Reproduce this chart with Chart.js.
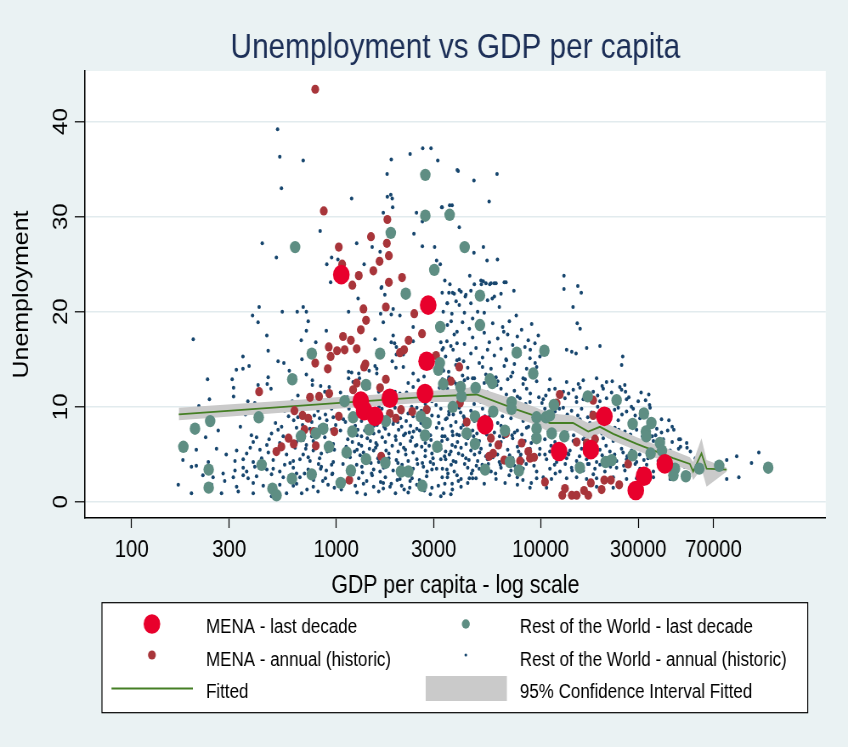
<!DOCTYPE html>
<html>
<head>
<meta charset="utf-8">
<script src="https://cdn.jsdelivr.net/npm/chart.js@4.4.1/dist/chart.umd.min.js"></script>
<style>
html, body { margin: 0; padding: 0; background: #EAF2F3; overflow: hidden; }
/* the original graph is squeezed sideways (oval markers, narrow text) */
#wrap { width: 998px; height: 747px; transform: scaleX(0.8497); transform-origin: 0 0; }
</style>
</head>
<body>
<div id="wrap"><canvas id="chart" width="998" height="747"></canvas></div>
<script>
"use strict";

const xTickValues = [100, 300, 1000, 3000, 10000, 30000, 70000];
const yTickValues = [0, 10, 20, 30, 40];

const seriesLabels = [
	"MENA - last decade",
	"Rest of the World - last decade",
	"MENA - annual (historic)",
	"Rest of the World - annual (historic)",
	"Fitted",
	"95% Confidence Interval Fitted"
];

// [GDP per capita, unemployment %]
const menaDecade = [[1060,23.9],[2820,20.7],[2770,14.8],[2720,11.4],[1830,10.9],[1320,10.6],[1370,9.6],[1550,9.0],
	[5350,8.1],[12300,5.3],[17600,5.5],[20500,9.0],[32000,2.7],[29200,1.2],[40500,4.0]];

const rowDecade = [[2730,34.4],[2730,30.1],[3590,30.2],[630,26.8],[1850,28.3],[3020,24.4],[2190,21.9],[4250,26.8],
	[5050,21.7],[3230,18.4],[760,15.6],[1640,15.6],[3215,14.6],[3160,13.9],[610,12.9],[1400,12.3],[3340,12.4],
	[1100,10.6],[3720,10.0],[2590,9.0],[2770,8.3],[2720,7.0],[1210,8.9],[1750,8.5],[1450,7.6],[1200,7.4],[865,7.7],
	[797,7.2],[673,6.9],[242,8.5],[204,7.7],[418,8.9],[179,5.8],[922,5.8],[1125,5.2],[3120,5.8],[1400,4.5],[1740,4.1],
	[432,3.9],[238,3.4],[1180,3.3],[2075,3.2],[2255,3.2],[759,2.9],[608,2.45],[1052,2.0],[238,1.5],[488,1.4],[511,0.7],
	[2637,1.7],[5050,18.6],[7640,15.7],[10430,15.9],[9200,13.5],[4060,12.1],[4100,11.1],[4810,12.0],[5650,12.9],
	[5800,12.5],[4350,7.2],[4775,9.0],[4775,6.1],[5860,9.5],[6690,7.5],[7210,10.5],[7210,9.8],[7080,4.2],[5350,3.4],
	[7830,3.3],[9550,8.9],[9550,7.7],[9550,6.7],[10620,8.9],[11100,9.1],[11610,10.2],[11330,7.2],[13060,6.9],
	[17000,11.1],[23530,10.7],[15560,3.6],[20800,4.2],[22250,4.4],[28180,4.9],[28180,8.2],[32000,9.3],[32700,7.4],
	[32900,6.9],[34500,5.1],[34800,8.3],[38300,6.2],[39200,5.4],[45400,3.5],[44600,2.8],[51300,2.7],[59700,3.5],
	[74700,3.8],[129700,3.6]];

const menaAnnual = [[790,43.4],[870,30.6],[1780,29.7],[1480,27.9],[1770,27.2],[1030,26.8],[1810,25.9],[1630,25.3],
	[1070,25.0],[1520,24.3],[1290,23.8],[2100,23.6],[1810,23.1],[1200,22.8],[1750,20.5],[2410,19.8],[1360,20.3],
	[1400,19.1],[1320,18.1],[2630,17.7],[1080,17.4],[1180,17.0],[2260,17.0],[1100,16.0],[1010,15.9],[1260,16.1],
	[920,16.3],[940,15.3],[2050,15.7],[2150,16.0],[790,14.6],[1390,14.5],[910,14.0],[1370,14.2],[1750,12.9],
	[3080,15.4],[3640,12.7],[420,11.6],[1260,12.5],[1640,12.0],[1210,11.8],[745,11.0],[825,11.1],[925,11.4],
	[2075,9.7],[2770,9.7],[2355,9.5],[625,9.6],[685,9.1],[730,8.8],[1030,9.0],[1830,9.3],[1960,8.8],[700,7.6],
	[775,7.4],[980,7.4],[585,6.7],[620,6.1],[795,5.9],[540,5.8],[510,5.3],[1660,4.8],[1160,2.3],[4000,14.2],
	[4030,10.4],[12400,11.3],[11970,10.4],[18070,10.7],[18070,9.1],[4350,8.4],[5710,6.7],[6210,6.0],[5860,5.1],
	[5600,4.8],[6760,7.2],[6640,4.4],[7930,4.3],[8080,6.2],[8700,5.3],[8870,4.6],[9290,4.7],[10500,2.1],[15000,6.3],
	[16800,6.2],[18450,6.6],[13150,1.4],[12760,0.7],[14200,0.7],[15000,0.7],[16300,1.2],[17100,0.7],[17600,2.0],
	[19870,1.3],[20470,2.3],[22070,2.3],[24230,1.8],[26800,4.0]];

// rest of the world, annual: split by income band
const rowAnnualLow = [[517,39.2],[530,36.3],[690,35.9],[540,33.0],[835,28.5],[435,27.2],[510,25.7],[900,25.0],
	[950,25.7],[940,23.1],[200,17.1],[420,20.5],[390,19.6],[415,18.9],[545,20.0],[645,20.0],[715,20.0],[690,20.5],
	[730,19.0],[458,17.5],[715,18.0],[675,17.0],[795,16.8],[895,18.0],[350,15.3],[375,14.3],[350,14.0],[325,13.9],
	[465,15.9],[465,13.1],[520,14.8],[555,14.6],[680,15.0],[590,13.8],[630,13.2],[625,12.8],[715,13.4],[765,12.8],
	[765,12.3],[840,12.2],[925,12.1],[460,12.4],[480,11.9],[415,12.3],[310,12.9],[315,12.0],[315,11.1],[235,12.9],
	[240,10.8],[213,10.1],[400,10.4],[445,9.9],[370,10.6],[700,10.5],[780,10.2],[860,10.0],[950,9.8],
	[169,1.8],[196,0.9],[207,3.8],[196,3.7],[207,5.5],[223,2.8],[237,4.2],[246,1.8],[250,2.6],[275,0.9],[280,3.0],
	[285,2.2],[178,4.4],[230,6.8],[265,7.5],[290,5.0],
	[541,7.9],[385,7.0],[408,6.8],[483,7.2],[551,6.9],[393,6.3],[458,6.0],[530,6.2],[326,5.4],[365,5.1],[424,5.5],
	[466,5.2],[511,5.4],[572,5.0],[320,4.3],[351,4.5],[393,4.2],[432,4.6],[492,4.4],[595,4.1],[320,3.3],[351,3.6],
	[365,3.2],[400,3.7],[458,3.4],[492,3.5],[530,3.2],[314,2.6],[351,2.8],[371,2.5],[408,2.7],[483,2.9],[551,2.6],
	[326,1.6],[393,2.0],[440,1.7],[530,1.8],[332,1.1],[393,0.9],[483,0.6],[572,0.9],[420,8.8],[505,8.3],[360,9.2],
	[585,9.0],
	[782,9.1],[830,8.8],[886,9.2],[968,8.9],[640,7.8],[685,8.1],[745,7.7],[830,7.9],[895,8.0],[950,7.6],[773,7.1],
	[880,6.8],[640,6.3],[715,6.0],[773,6.4],[968,6.1],[773,5.4],[846,5.1],[617,4.3],[665,4.5],[745,4.3],[830,4.6],
	[968,4.2],[617,3.6],[730,3.4],[846,3.7],[895,3.3],[665,2.6],[773,2.8],[886,2.5],[617,1.7],[640,1.9],[773,1.6],
	[913,1.8],[678,0.9],[815,1.1],[710,5.6],[920,5.8],[650,7.0],[990,7.3],[700,3.0],[960,3.0],[620,8.6],[760,8.4],
	[900,8.6],[690,5.0],[820,4.0],[950,3.9],[640,3.0],[860,2.2],[720,1.3],[980,1.5],
	[610,10.6],[650,8.9],[690,6.5],[730,4.7],[775,2.3],[815,9.6],[860,7.3],[905,5.3],[955,2.9],[995,8.1],[630,5.7],
	[700,9.9],[760,6.9],[840,3.5],[920,10.9],[980,5.5],[560,9.6],[520,7.6],[470,6.6],[430,3.8],[380,5.7],[340,7.9],
	[300,9.4],[260,5.6],[560,3.9],[600,2.2],[650,11.2],[880,11.6]];

const rowAnnualMid = [[1190,31.9],[2300,36.6],[2650,37.2],[2910,37.2],[3140,35.9],[3910,34.9],[1860,36.0],[1775,34.5],
	[1780,32.1],[1850,32.3],[1880,31.9],[1890,31.0],[1700,30.4],[2470,30.4],[2640,29.5],[3300,31.0],[3690,31.2],
	[4000,28.9],[1260,27.2],[1500,26.8],[1640,26.3],[2400,28.2],[2640,26.9],[3030,26.8],[3100,25.4],[3230,25.0],
	[1020,25.5],[1370,25.0],[3400,23.3],[3600,22.9],[3710,22.0],[3560,22.0],[3300,22.0],[1660,22.5],[1730,21.8],
	[1280,21.4],[4000,22.3],[3950,34.8],[4720,33.8],[6120,34.5],[5600,31.6],[3280,31.0],[3590,31.2],[5250,26.8],
	[4720,26.2],[5470,25.4],[6150,25.5],[4500,23.8],[5240,23.2],[5130,22.9],[5640,22.9],[5930,23.0],[6640,23.1],
	[4560,22.2],[4280,21.6],[5800,21.4],[3780,21.9],[3490,20.9],[3860,21.1],[1670,22.6],[1650,19.8],[1700,18.9],
	[1860,19.7],[2050,19.6],[1900,20.3],[2380,18.4],[2950,20.2],[3340,20.0],[3650,19.0],[3680,19.8],[1150,20.0],
	[1550,17.1],[1900,17.5],[1860,16.8],[1930,16.7],[1970,16.3],[2380,16.9],[3250,16.8],[3340,16.2],[3480,16.9],
	[3900,16.7],[1150,13.7],[1190,13.6],[1290,13.5],[1450,13.8],[1580,13.5],[1150,13.0],[1210,12.6],[1300,13.0],
	[1550,14.3],[1580,14.0],[1880,14.8],[1970,15.5],[2130,15.5],[1960,14.1],[2130,14.2],[3300,16.0],[3730,16.0],
	[3900,14.9],[3550,13.7],[3550,12.9],[3860,12.4],[4040,12.1],[2380,13.5],[2520,12.8],[2690,13.2],[2380,12.1],
	[2250,12.5],[1940,11.6],[2050,11.4],[2210,10.9],[2380,10.7],[2560,10.9],[2110,10.5],[1730,10.4],[1620,10.0],
	[1940,9.9],[1050,11.5],[1135,11.0],[1290,11.3],[1470,10.9],[1615,11.6],[1810,11.2],[1155,9.8],[1360,10.2],
	[1525,9.6],[2480,9.9],[2730,10.3],[2890,11.8],[2940,10.6],
	[4080,22.1],[4310,21.8],[3500,20.9],[4000,20.7],[4560,20.9],[5110,23.3],[5400,23.0],[5720,23.0],[6050,23.0],
	[6770,23.1],[4740,22.9],[5940,21.6],[6280,20.5],[4920,20.0],[5300,19.9],[5500,21.2],[4240,19.9],
	[3500,18.6],[4150,18.9],[4480,18.2],[5830,18.8],[6520,18.4],[7030,19.0],[8070,18.1],[9040,18.7],
	[3780,17.6],[4650,17.3],[5300,17.8],[6170,17.2],[6900,17.6],[7690,17.4],[8700,17.0],[9740,17.5],
	[3640,16.4],[4240,16.6],[4830,16.2],[5610,16.8],[6400,16.1],[7300,16.5],[8380,16.3],[9380,16.7],
	[3430,15.3],[4000,15.0],[4560,15.6],[5200,15.2],[5940,15.4],[6770,15.0],[7920,15.5],[8870,15.1],[9920,15.3],
	[3310,14.0],[3850,14.4],[4400,14.1],[5010,14.6],[5720,14.0],[6640,14.3],[7440,14.5],[8540,14.0],[9560,14.2],
	[3560,13.1],[4150,13.3],[4740,13.0],[5400,13.4],[6050,13.1],[7160,13.2],[8210,13.0],[9200,13.4],
	[3310,12.9],[3780,12.6],[4240,12.8],[4650,13.0],[5300,12.5],[6170,12.7],[6900,12.9],[8210,12.4],[9560,12.7],
	[3500,11.9],[3920,11.6],[4480,11.8],[4920,12.0],[5500,11.5],[6400,11.9],[7440,11.7],[8540,11.9],
	[3750,11.3],[4450,11.2],[5000,11.4],[5900,11.2],[6800,11.3],[7700,11.1],[8900,11.4],[9800,11.0],
	[3360,10.8],[3640,10.6],[4310,10.9],[5110,10.5],[5720,10.8],[6640,10.6],[7920,10.9],[8870,10.5],
	[3250,9.8],[3560,9.5],[4000,9.9],[4560,9.6],[5200,9.8],[6050,9.4],[7030,9.7],[7800,9.9],[8700,9.5],
	[3560,9.2],[4200,9.0],[4900,9.3],[5650,9.1],[6500,9.0],[7500,9.2],[8300,9.0],[9300,9.2],
	[3430,8.7],[3850,8.4],[4240,8.8],[4740,8.5],[5300,8.7],[6170,8.3],[7160,8.8],[8210,8.5],[9200,8.6],
	[3310,7.7],[3700,7.4],[4080,7.8],[4650,7.5],[5200,7.6],[5940,7.3],[6900,7.7],[7690,7.5],[8540,7.8],
	[3400,6.9],[4000,7.0],[4700,6.9],[5450,7.1],[6300,6.9],[7250,7.0],[8100,7.1],[9200,6.9],
	[3500,6.6],[3920,6.3],[4400,6.7],[5010,6.4],[5610,6.6],[6400,6.3],[7300,6.7],[8380,6.4],[9380,6.6],
	[3250,5.6],[3640,5.3],[4080,5.7],[4560,5.4],[5110,5.6],[5940,5.2],[6900,5.5],[7800,5.3],[8870,5.6],
	[3580,5.0],[4150,4.9],[4750,5.0],[5400,4.8],[6150,5.0],[7050,4.9],[8000,5.0],[9150,4.8],
	[3430,4.5],[3850,4.2],[4310,4.6],[4920,4.3],[5500,4.5],[6280,4.2],[7300,4.6],[8210,4.3],[9380,4.5],
	[3650,3.9],[4250,4.0],[4850,3.8],[5550,4.0],[6350,3.9],[7450,3.8],[8500,4.0],
	[3310,3.5],[3780,3.2],[4400,3.6],[4650,3.3],[5010,3.5],[5720,3.2],[6400,3.6],[7160,3.3],[8210,3.5],[9560,3.2],
	[3500,2.6],[4080,2.4],[4480,2.5],[4650,2.5],[4830,2.5],[6050,2.4],[7690,2.6],[9560,2.5],
	[3400,1.9],[4400,2.0],[5300,1.9],[6700,2.0],[7700,1.8],[9000,2.0],[3700,1.3],[4080,1.6],[8870,1.5],[3250,0.6],
	[1220,9.1],[1390,8.9],[1585,9.2],[1680,9.0],[2060,8.8],[2250,9.3],[2380,9.0],[2520,8.7],[2940,9.1],
	[1240,8.0],[1415,7.8],[1585,8.1],[1740,7.7],[1900,8.2],[2090,7.9],[2310,8.0],[2480,7.7],[2670,8.1],
	[1110,8.4],[1330,8.5],[1500,8.3],[1790,8.6],[2000,8.4],[2200,8.5],[2600,8.3],[2830,8.6],
	[1050,7.5],[1180,7.3],[1380,7.5],[1620,7.4],[2020,7.6],[2280,7.3],[2560,7.5],[2800,7.3],
	[1265,7.0],[1525,7.2],[1680,6.8],[1810,7.1],[1950,6.9],[2180,7.2],[2350,6.8],[2890,7.0],
	[1200,6.3],[1290,6.1],[1470,6.4],[1585,6.0],[1740,6.3],[2060,6.1],[2310,6.4],[2480,6.0],[2730,6.2],
	[1120,5.8],[1330,5.9],[1560,5.7],[1880,5.9],[2140,5.7],[2620,5.8],[2850,5.9],
	[1265,5.5],[1360,5.2],[1525,5.4],[1810,5.1],[2010,5.3],[2180,5.5],[2380,5.2],[2730,5.4],[2940,5.1],
	[1415,4.5],[1615,4.2],[1810,4.6],[1970,4.4],[2250,4.3],[2480,4.5],[2890,4.2],
	[1080,4.0],[1260,3.9],[1480,4.1],[1760,4.0],[2100,3.9],[2640,4.1],[2990,4.0],
	[1335,3.7],[1525,3.4],[1705,3.6],[1900,3.3],[2380,3.5],[2670,3.7],[2940,3.4],
	[1290,2.5],[1500,2.8],[1740,2.6],[2060,2.9],[2350,2.5],[2770,2.7],
	[1130,2.2],[1410,2.2],[1650,2.1],[1990,2.3],[2300,2.2],[2600,2.1],
	[1240,1.7],[1360,1.9],[1525,1.6],[1860,1.9],[2090,1.7],[2480,1.8],[2940,1.5],
	[1060,1.3],[1700,1.4],[2150,1.3],[2700,1.2],
	[1265,1.0],[1390,0.8],[1615,1.1],[1950,0.9],[2250,1.0],[2890,0.8],
	[3160,9.0],[3480,8.8],[3740,9.2],[3100,7.8],[3640,8.0],[3300,6.9],[3900,7.1],[3160,6.2],[3690,6.0],[3430,5.3],
	[3970,5.1],[3250,4.5],[3740,4.3],[3100,3.5],[3480,3.4],[3300,2.6],[3900,2.8],[3160,1.7],[3690,1.9],[3360,0.9],
	[3640,0.8],
	[1030,10.1],[1085,8.7],[1140,6.6],[1170,4.7],[1210,2.9],[1245,10.7],[1275,7.6],[1310,4.9],[1345,3.1],[1380,9.5],
	[1420,6.7],[1455,5.6],[1490,3.0],[1530,8.0],[1565,6.2],[1600,4.6],[1640,3.2],[1675,9.8],[1715,7.9],[1755,5.4],
	[1795,3.9],[1835,1.6],[1875,10.2],[1915,8.5],[1960,6.5],[2005,4.1],[2050,2.4],[2095,9.4],[2140,7.0],[2190,5.0],
	[2240,3.1],[2290,1.5],[2340,10.0],[2390,7.4],[2445,5.9],[2500,4.0],[2555,2.3],[2610,9.6],[2665,6.6],[2725,4.8],
	[2785,3.2],[2845,9.8],[2910,6.5],[2975,4.6],[1095,5.1],[1330,6.9],[1700,2.0],[2210,11.5],[2580,11.2],[1450,12.0],
	[1230,5.3],
	[3080,10.2],[3180,8.3],[3290,6.4],[3390,4.8],[3520,3.0],[3610,11.6],[3720,7.0],[3830,5.8],[3960,2.2],[4060,9.4],
	[4190,8.1],[4320,6.1],[4460,4.4],[4590,3.0],[4730,10.3],[4880,7.2],[5030,5.2],[5180,3.9],[5340,9.0],[5500,7.9],
	[5670,6.0],[5840,4.7],[6020,3.0],[6210,10.1],[6400,8.0],[6600,6.8],[6810,4.2],[7020,2.8],[7240,9.6],[7460,7.3],
	[7700,5.8],[7940,4.7],[8190,2.3],[8450,10.3],[8720,7.9],[9000,6.2],[9280,3.8],[9570,9.3],[9870,5.0],[3350,13.8],
	[4400,13.0],[5200,14.2],[6100,12.3],[7300,13.6],[8400,12.9],[9400,14.6],[3900,17.9],[4650,19.3],[5500,16.0],
	[6600,17.9],[7600,19.6],[8900,16.0],[4200,14.8],[6800,14.9],[5100,21.5],[6400,21.9],[7400,22.2],[3200,12.0]];

const rowAnnualHigh = [[13000,23.8],[13000,22.4],[15200,22.7],[15800,22.0],[14400,20.5],[15100,18.8],[15600,18.2],
	[13400,16.0],[14200,15.8],[14900,15.6],[16800,16.2],[19500,16.4],[25200,15.3],[24900,14.4],[22400,12.7],
	[24400,12.1],[25800,12.3],[33800,11.3],[32600,10.7],[34100,10.2],
	[11100,12.9],[13400,12.6],[16160,12.8],[18780,13.0],[21010,12.6],
	[11750,11.9],[12900,11.6],[14440,11.8],[15570,12.0],[18090,11.6],[20240,11.9],[22230,11.5],[24880,11.8],
	[10600,11.2],[13700,11.4],[19000,11.2],[27000,11.0],[31000,11.5],
	[10300,10.8],[11970,10.6],[13150,10.9],[14990,10.5],[16160,10.8],[19490,10.6],[21010,10.9],[23520,10.5],
	[26320,10.8],[30010,10.6],
	[10490,9.8],[11750,9.5],[12900,9.9],[14170,9.6],[15860,9.8],[17750,9.4],[21410,9.7],[23960,9.9],[26320,9.5],
	[28370,9.8],[31000,9.6],[34300,9.9],
	[10800,9.2],[12000,9.0],[13500,9.2],[15200,9.1],[17000,8.9],[19000,9.2],[22000,9.0],[25000,9.2],[29000,9.1],
	[33000,9.0],
	[10300,8.7],[11530,8.4],[12660,8.8],[13910,8.5],[15570,8.7],[17420,8.3],[19130,8.8],[21410,8.5],[23960,8.6],
	[27330,8.4],[30600,8.8],[35600,8.5],[39000,8.7],
	[9920,7.7],[10900,7.4],[12200,7.8],[13400,7.5],[14990,7.6],[16780,7.3],[18430,7.7],[21010,7.5],[23080,7.8],
	[25830,7.4],[29460,7.6],[33000,7.3],[37000,7.7],[41800,7.5],[44800,7.6],
	[11300,6.9],[12800,7.1],[14500,7.0],[16500,6.9],[18500,7.1],[21500,6.9],[24500,7.0],[27500,7.1],[31500,6.9],
	[36500,7.0],
	[10490,6.6],[11750,6.3],[12900,6.7],[14440,6.4],[16160,6.6],[18090,6.3],[20240,6.7],[22650,6.4],[25350,6.6],
	[28370,6.3],[31700,6.7],[35600,6.4],[39800,6.6],[44000,6.3],[48200,6.6],[51800,6.2],
	[9920,5.6],[11100,5.3],[12430,5.7],[13910,5.4],[15860,5.6],[17750,5.2],[19490,5.5],[21820,5.3],[24880,5.6],
	[27840,5.4],[31700,5.6],[35600,5.3],[39000,5.7],[43000,5.4],[47300,5.6],
	[10500,5.0],[12100,4.9],[13700,5.0],[15500,4.8],[17400,5.0],[20000,4.9],[23000,5.0],[26500,4.8],[30500,5.0],
	[34500,4.9],[40000,5.0],
	[10690,4.5],[11970,4.2],[13400,4.6],[14990,4.3],[16780,4.5],[18780,4.2],[21010,4.6],[23520,4.3],[26320,4.5],
	[29460,4.2],[33500,4.6],[37600,4.3],[42100,4.5],[46400,4.2],
	[11700,3.9],[13200,4.0],[15000,3.8],[17000,4.0],[19500,3.9],[22500,4.0],[25500,3.8],[29000,4.0],[33000,3.9],
	[38000,4.0],
	[11100,3.5],[12430,3.2],[14170,3.6],[16160,3.3],[18430,3.5],[20620,3.2],[23520,3.6],[25830,3.3],[30600,3.5],
	[35600,3.2],[41800,3.6],[44800,3.3],
	[10300,2.6],[11300,2.4],[13400,2.5],[14990,2.6],[16780,2.4],[18780,2.5],[22650,2.6],[26320,2.4],[29460,2.5],
	[35600,2.6],[43000,2.4],[51000,2.5],
	[10690,1.5],[12900,1.4],[18780,1.6],[22650,1.5],[30600,1.4],
	[116700,5.2],[107500,4.1],[91000,4.8],[81300,4.4],[81300,2.4],[93200,2.6],[65600,2.3],[47450,6.6],[44000,7.9],
	[48300,5.8],[42400,8.6],[60400,3.8],[57100,4.6],[54000,5.3],[66300,3.1],[72400,3.0],[72400,4.1],[53000,3.0],
	[10150,10.4],[10700,7.9],[11250,5.9],[11800,3.0],[12350,9.8],[12950,7.4],[13600,5.1],[14250,3.3],[14950,11.0],
	[15700,8.0],[16450,6.0],[17250,4.0],[18100,2.9],[19000,10.0],[19950,7.2],[20900,5.9],[21950,3.7],[23000,9.7],
	[24100,7.6],[25300,5.2],[26500,3.8],[27800,10.0],[29100,8.1],[30500,6.0],[32000,4.4],[33500,8.0],[35100,6.9],
	[37000,5.9],[39000,7.3],[41000,5.1],[43000,4.0],[45500,5.0],[48000,4.4],[50500,3.7],[52000,5.7],[11000,11.8],
	[15300,12.4],[20000,12.2],[26000,11.6]];

// fitted line and its 95% band
const fitGdp = [170, 1000, 3000, 4860, 7640, 9550, 11100, 14400, 17100, 19500, 22650, 29500, 36900, 44450, 53700, 55700, 61200, 64800, 81300];
const fitValue = [9.2, 10.4, 11.1, 11.3, 9.7, 9.0, 8.3, 8.3, 7.4, 7.9, 7.15, 6.1, 5.3, 4.6, 4.0, 3.2, 5.1, 3.5, 3.4];
const ciHigh = [9.9, 11.0, 11.7, 12.1, 10.7, 9.9, 9.3, 9.1, 8.3, 8.6, 7.9, 6.8, 6.0, 5.4, 4.7, 4.2, 6.7, 4.4, 3.6];
const ciLow = [8.6, 9.8, 10.5, 10.5, 8.8, 8.1, 7.3, 7.5, 6.6, 7.2, 6.4, 5.4, 4.6, 3.9, 3.3, 2.3, 3.5, 1.6, 3.2];

const colors = {
	menaDecade: "#E8002C",
	rowDecade: "#5E8E83",
	menaAnnual: "#A8353A",
	rowAnnual: "#17466E",
	fit: "#457F25",
	ci: "#CACACA"
};

const toXY = arr => arr.map(p => ({ x: p[0], y: p[1] }));
const onGdp = vals => fitGdp.map((g, i) => ({ x: g, y: vals[i] }));
const rowAnnual = rowAnnualLow.concat(rowAnnualMid, rowAnnualHigh);

Chart.defaults.font.family = '"Liberation Sans", Arial, Helvetica, sans-serif';
Chart.defaults.color = "#000";

function dots(label, data, color, r) {
	return {
		type: "scatter", label: label, data: toXY(data),
		pointRadius: r, pointBackgroundColor: color, pointBorderWidth: 0,
		pointBorderColor: color, backgroundColor: color
	};
}

// page + plot region colours
const background = {
	id: "background",
	beforeDraw(chart) {
		const { ctx, chartArea: a } = chart;
		ctx.save();
		ctx.fillStyle = "#EAF2F3";
		ctx.fillRect(0, 0, chart.width, chart.height);
		ctx.fillStyle = "#FFFFFF";
		ctx.fillRect(a.left, a.top, a.right - a.left, a.bottom - a.top);
		ctx.restore();
	}
};

// boxed 2-column legend under the axis title
const boxLegend = {
	id: "boxLegend",
	afterDraw(chart) {
		const ctx = chart.ctx;
		const box = { x: 120, y: 602.7, w: 830.6, h: 110 };
		const symX = [178.8, 548.2], textX = [242.4, 611.8];
		const symY = [624, 655, 688.5], baseY = [633.3, 665.5, 698];
		const markers = [
			[colors.menaDecade, 9.8], [colors.rowDecade, 4.7],
			[colors.menaAnnual, 4.6], [colors.rowAnnual, 1.6]
		];
		ctx.save();
		ctx.fillStyle = "#FFFFFF";
		ctx.fillRect(box.x, box.y, box.w, box.h);
		ctx.strokeStyle = "#000";
		ctx.lineWidth = 1.2;
		ctx.strokeRect(box.x, box.y, box.w, box.h);

		for (let i = 0; i < seriesLabels.length; i++) {
			const col = i % 2, row = Math.floor(i / 2);
			const cx = symX[col], cy = symY[row];
			if (i < 4) {
				ctx.fillStyle = markers[i][0];
				ctx.beginPath();
				ctx.arc(cx, cy, markers[i][1], 0, Math.PI * 2);
				ctx.fill();
			} else if (i === 4) {
				ctx.strokeStyle = colors.fit;
				ctx.lineWidth = 1.8;
				ctx.beginPath();
				ctx.moveTo(131.2, cy);
				ctx.lineTo(227, cy);
				ctx.stroke();
			} else {
				ctx.fillStyle = colors.ci;
				ctx.fillRect(501, 676, 95.5, 25);
			}
			ctx.fillStyle = "#000";
			ctx.font = '20px "Liberation Sans", Arial, sans-serif';
			ctx.textBaseline = "alphabetic";
			ctx.textAlign = "left";
			ctx.fillText(seriesLabels[i], textX[col], baseY[row]);
		}
		ctx.restore();
	}
};

const chart = new Chart(document.getElementById("chart"), {
	type: "scatter",
	data: {
		datasets: [
			dots(seriesLabels[0], menaDecade, colors.menaDecade, 9.8),
			dots(seriesLabels[1], rowDecade, colors.rowDecade, 6.2),
			dots(seriesLabels[2], menaAnnual, colors.menaAnnual, 4.6),
			{
				type: "line", label: seriesLabels[4], data: onGdp(fitValue),
				borderColor: colors.fit, borderWidth: 1.8, pointRadius: 0, fill: false, tension: 0
			},
			{
				type: "line", label: seriesLabels[5], data: onGdp(ciHigh),
				borderColor: "rgba(0,0,0,0)", borderWidth: 1, pointRadius: 0,
				fill: "+1", backgroundColor: colors.ci, tension: 0
			},
			{
				type: "line", label: "ci low", data: onGdp(ciLow),
				borderColor: "rgba(0,0,0,0)", borderWidth: 1, pointRadius: 0, fill: false, tension: 0
			},
			dots(seriesLabels[3], rowAnnual, colors.rowAnnual, 2.0)
		]
	},
	options: {
		responsive: false,
		animation: false,
		events: [],
		layout: { padding: { left: 0, right: 26.2, top: 0, bottom: 0 } },
		plugins: {
			legend: { display: false },
			tooltip: { enabled: false },
			title: {
				display: true,
				text: "Unemployment vs GDP per capita",
				color: "#1C2F57",
				fullSize: false,
				font: { size: 35, weight: "normal" },
				padding: { top: 27, bottom: 2 }
			}
		},
		scales: {
			x: {
				type: "logarithmic",
				bounds: "data",
				min: 59.1,
				max: 248000,
				afterBuildTicks: s => { s.ticks = xTickValues.map(v => ({ value: v })); },
				afterFit: s => { s.height = 229; },
				ticks: {
					autoSkip: false, minRotation: 0, maxRotation: 0, padding: 8,
					font: { size: 24 }, color: "#000",
					callback: v => String(v)
				},
				grid: { drawOnChartArea: false, drawTicks: true, tickLength: 10, tickColor: "#000", tickWidth: 1.2 },
				border: { display: true, color: "#000", width: 1.5 },
				title: {
					display: true, text: "GDP per capita - log scale", color: "#000",
					font: { size: 25 }, padding: { top: 0, bottom: 146 }
				}
			},
			y: {
				bounds: "data",
				min: -1.69,
				max: 45.32,
				afterBuildTicks: s => { s.ticks = yTickValues.map(v => ({ value: v })); },
				afterFit: s => { s.width = 100; },
				ticks: {
					autoSkip: false, minRotation: 90, maxRotation: 90, crossAlign: "center",
					padding: 2.5, font: { size: 24 }, color: "#000"
				},
				grid: { color: "#E2EBEE", lineWidth: 1.6, tickColor: "#000", tickLength: 12, tickWidth: 1.2 },
				border: { display: true, color: "#000", width: 1.5 },
				title: {
					display: true, text: "Unemployment", color: "#000",
					font: { size: 25 }, padding: { top: 11, bottom: 0 }
				}
			}
		}
	},
	plugins: [background, boxLegend]
});
</script>
</body>
</html>
